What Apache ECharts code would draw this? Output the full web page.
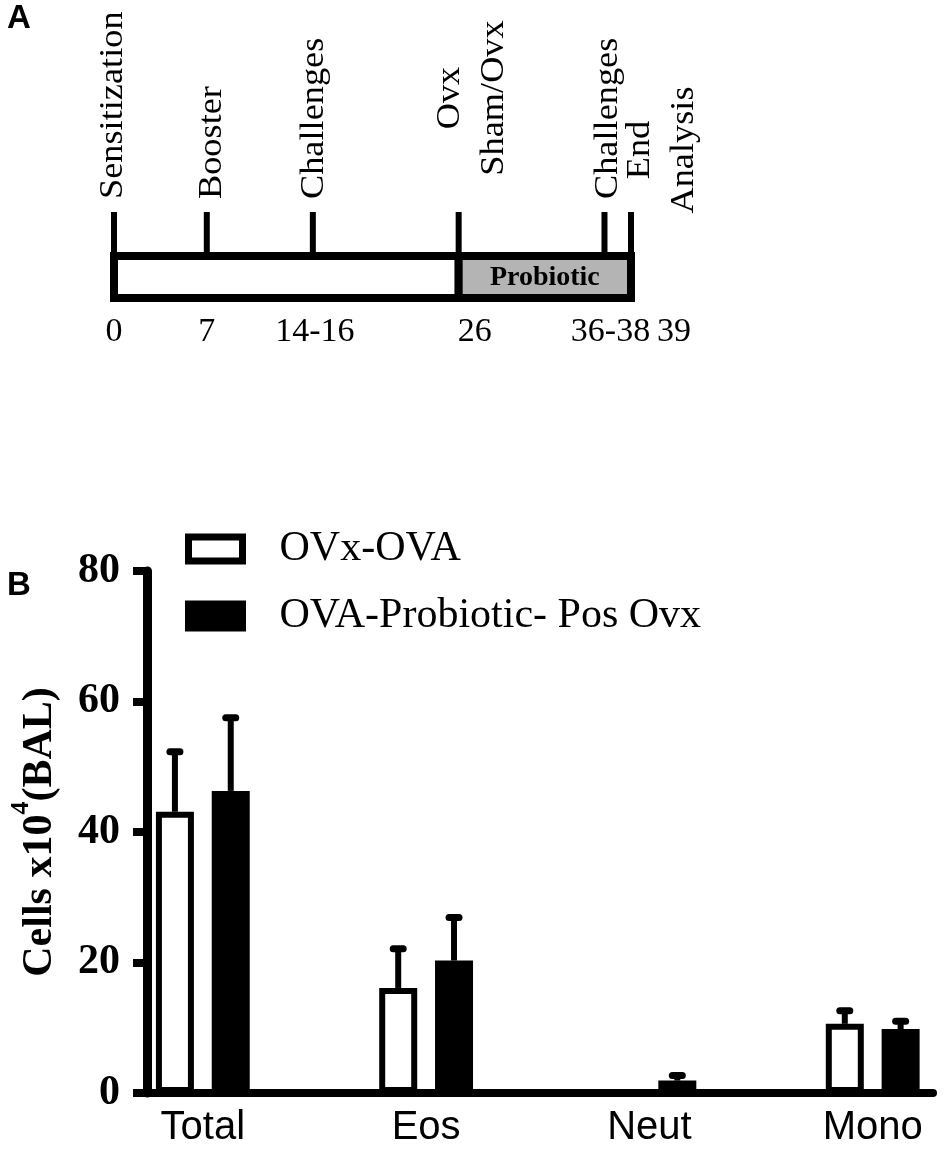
<!DOCTYPE html>
<html><head><meta charset="utf-8">
<script src="https://cdn.jsdelivr.net/npm/echarts@6/dist/echarts.min.js"></script>
<style>html,body{margin:0;padding:0;background:#fff}#c{width:950px;height:1169px}</style>
</head><body><div id="c"></div>
<script>
// ---------- Panel B data ----------
const categories = ['Total', 'Eos', 'Neut', 'Mono'];
const seriesNames = ['OVx-OVA', 'OVA-Probiotic- Pos Ovx'];
const ovxOva = [43.1, 16.1, 0, 10.6];
const ovxOvaErr = [9.2, 6.0, 0, 2.0];
const probiotic = [46.3, 20.3, 1.9, 9.8];
const probioticErr = [11.2, 6.6, 0.8, 1.2];
// ---------- Panel A data (timeline, days) ----------
const timelineDays = [0, 7, 15, 26, 37, 39];
const dayLabels = ['0', '7', '14-16', '26', '36-38', '39'];
const eventLabels = ['Sensitization', 'Booster', 'Challenges', 'Ovx\nSham/Ovx', 'Challenges', 'End\nAnalysis'];
const phaseStart = [0, 26];
const phaseEnd = [26, 39];
const phaseNames = ['', 'Probiotic'];

// ---------- layout / style constants ----------
const PAIR_SHIFT = 0.125;
const EVENT_DX = [-1, 6, 1.5, 14, 3.5, 31];
const EVENT_MID_Y = [0, 0, 0, 98, 0, 150];
const DAY_DX = [0, 0, 2, 16, 6, 43];
const SERIF = '"Liberation Serif", "Times New Roman", serif';
const SANS = '"Liberation Sans", Arial, sans-serif';

function renderErr(params, api) {
  const x = api.value(0), v = api.value(1), e = api.value(2);
  if (!e) return null;
  const b = api.coord([x, v]);
  const t = api.coord([x, v + e]);
  return { type: 'group', children: [
    { type: 'line', shape: { x1: b[0], y1: b[1], x2: t[0], y2: t[1] }, style: { stroke: '#000', lineWidth: 6 } },
    { type: 'line', shape: { x1: t[0] - 5, y1: t[1], x2: t[0] + 5, y2: t[1] }, style: { stroke: '#000', lineWidth: 7, lineCap: 'round' } }
  ] };
}

function renderPhase(params, api) {
  const i = params.dataIndex;
  const p0 = api.coord([api.value(0), 1]);
  const p1 = api.coord([api.value(1), 0]);
  return { type: 'group', children: [
    { type: 'rect', shape: { x: p0[0], y: p0[1], width: p1[0] - p0[0], height: p1[1] - p0[1] },
      style: { fill: i ? '#b4b4b4' : '#ffffff', stroke: '#000', lineWidth: 8 } },
    { type: 'text', x: (p0[0] + p1[0]) / 2, y: (p0[1] + p1[1]) / 2 + 1,
      style: { text: phaseNames[i], font: 'bold 28px ' + SERIF, fill: '#000', align: 'center', verticalAlign: 'middle' } }
  ] };
}

function renderEvent(params, api) {
  const i = params.dataIndex;
  const top = api.coord([api.value(0), 1]);
  const x = top[0];
  const multi = eventLabels[i].indexOf('\n') >= 0;
  return { type: 'group', children: [
    { type: 'line', shape: { x1: x, y1: top[1], x2: x, y2: top[1] - 44 }, style: { stroke: '#000', lineWidth: 6 } },
    { type: 'text', x: x + EVENT_DX[i], y: multi ? EVENT_MID_Y[i] : 199, rotation: Math.PI / 2, scaleX: 1.1,
      style: { text: eventLabels[i], font: '33px ' + SERIF, fill: '#000', align: multi ? 'center' : 'left',
               verticalAlign: 'middle', lineHeight: 44 } },
    { type: 'text', x: x + DAY_DX[i], y: 332,
      style: { text: dayLabels[i], font: '34px ' + SERIF, fill: '#000', align: 'center', verticalAlign: 'middle' } }
  ] };
}

const chart = echarts.init(document.getElementById('c'), null, { renderer: 'canvas' });
chart.setOption({
  animation: false,
  backgroundColor: '#fff',
  grid: [
    { left: 147, right: 17, top: 571, bottom: 76, outerBoundsMode: 'none' },
    { left: 114, right: 319, top: 256, height: 42, outerBoundsMode: 'none' }
  ],
  graphic: [
    { type: 'text', left: 7, top: 2, style: { text: 'A', font: 'bold 33px ' + SANS, fill: '#000' } },
    { type: 'text', left: 7, top: 569, style: { text: 'B', font: 'bold 33px ' + SANS, fill: '#000' } }
  ],
  legend: {
    orient: 'vertical', left: 185, top: 528, padding: 0,
    itemWidth: 54, itemHeight: 24, itemGap: 25, icon: 'rect', selectedMode: false,
    textStyle: { fontFamily: SERIF, fontSize: 42, color: '#000', lineHeight: 42, padding: [0, 0, 0, 32] },
    data: [
      { name: seriesNames[0], itemStyle: { color: '#fff', borderColor: '#000', borderWidth: 7 } },
      { name: seriesNames[1], itemStyle: { color: '#000', borderColor: '#000', borderWidth: 7 } }
    ]
  },
  xAxis: [
    { type: 'value', gridIndex: 0, min: -0.25, max: 3.27, interval: 0.25,
      axisLine: { show: true, onZero: false, lineStyle: { color: '#000', width: 8 } },
      axisTick: { show: false }, splitLine: { show: false },
      axisLabel: { color: '#000', fontFamily: SANS, fontSize: 40, margin: 15, showMinLabel: true, showMaxLabel: true,
        formatter: function (v) {
          const r = Math.round(v);
          return (Math.abs(v - r) < 1e-6 && r >= 0 && r < categories.length) ? categories[r] : '';
        } } },
    { type: 'value', gridIndex: 1, min: 0, max: 39, show: false }
  ],
  yAxis: [
    { type: 'value', gridIndex: 0, min: 0, max: 80, interval: 20,
      axisLine: { show: true, onZero: false, lineStyle: { color: '#000', width: 9 } },
      axisTick: { show: true, length: 14, lineStyle: { color: '#000', width: 8 } },
      splitLine: { show: false },
      axisLabel: { color: '#000', fontFamily: SERIF, fontWeight: 'bold', fontSize: 42, margin: 27 },
      name: '{a|Cells x10}{s|4}{a|(BAL)}', nameLocation: 'middle', nameRotate: 90, nameGap: 75, nameMoveOverlap: false,
      nameTextStyle: { rich: {
        a: { fontFamily: SERIF, fontWeight: 'bold', fontSize: 42, color: '#000', lineHeight: 64 },
        s: { fontFamily: SERIF, fontWeight: 'bold', fontSize: 26, color: '#000', lineHeight: 26, verticalAlign: 'top' }
      } } },
    { type: 'value', gridIndex: 1, min: 0, max: 1, show: false }
  ],
  series: [
    { type: 'bar', name: seriesNames[0], xAxisIndex: 0, yAxisIndex: 0, barWidth: 38, barGap: '-100%',
      itemStyle: { color: '#fff', borderColor: '#000', borderWidth: 6 },
      data: categories.map((c, i) => [i - PAIR_SHIFT, ovxOva[i]]) },
    { type: 'bar', name: seriesNames[1], xAxisIndex: 0, yAxisIndex: 0, barWidth: 38, barGap: '-100%',
      itemStyle: { color: '#000', borderColor: '#000', borderWidth: 6 },
      data: categories.map((c, i) => [i + PAIR_SHIFT, probiotic[i]]) },
    { type: 'custom', name: 'err0', xAxisIndex: 0, yAxisIndex: 0, renderItem: renderErr, z: 5,
      encode: { x: 0, y: 1 }, data: categories.map((c, i) => [i - PAIR_SHIFT, ovxOva[i], ovxOvaErr[i]]) },
    { type: 'custom', name: 'err1', xAxisIndex: 0, yAxisIndex: 0, renderItem: renderErr, z: 5,
      encode: { x: 0, y: 1 }, data: categories.map((c, i) => [i + PAIR_SHIFT, probiotic[i], probioticErr[i]]) },
    { type: 'custom', name: 'phases', xAxisIndex: 1, yAxisIndex: 1, renderItem: renderPhase, clip: false,
      encode: { x: [0, 1] }, data: phaseStart.map((s, i) => [s, phaseEnd[i]]) },
    { type: 'custom', name: 'events', xAxisIndex: 1, yAxisIndex: 1, renderItem: renderEvent, clip: false, z: 4,
      encode: { x: 0, y: 1 }, data: timelineDays.map(d => [d, 1]) }
  ]
});
</script>
</body></html>
